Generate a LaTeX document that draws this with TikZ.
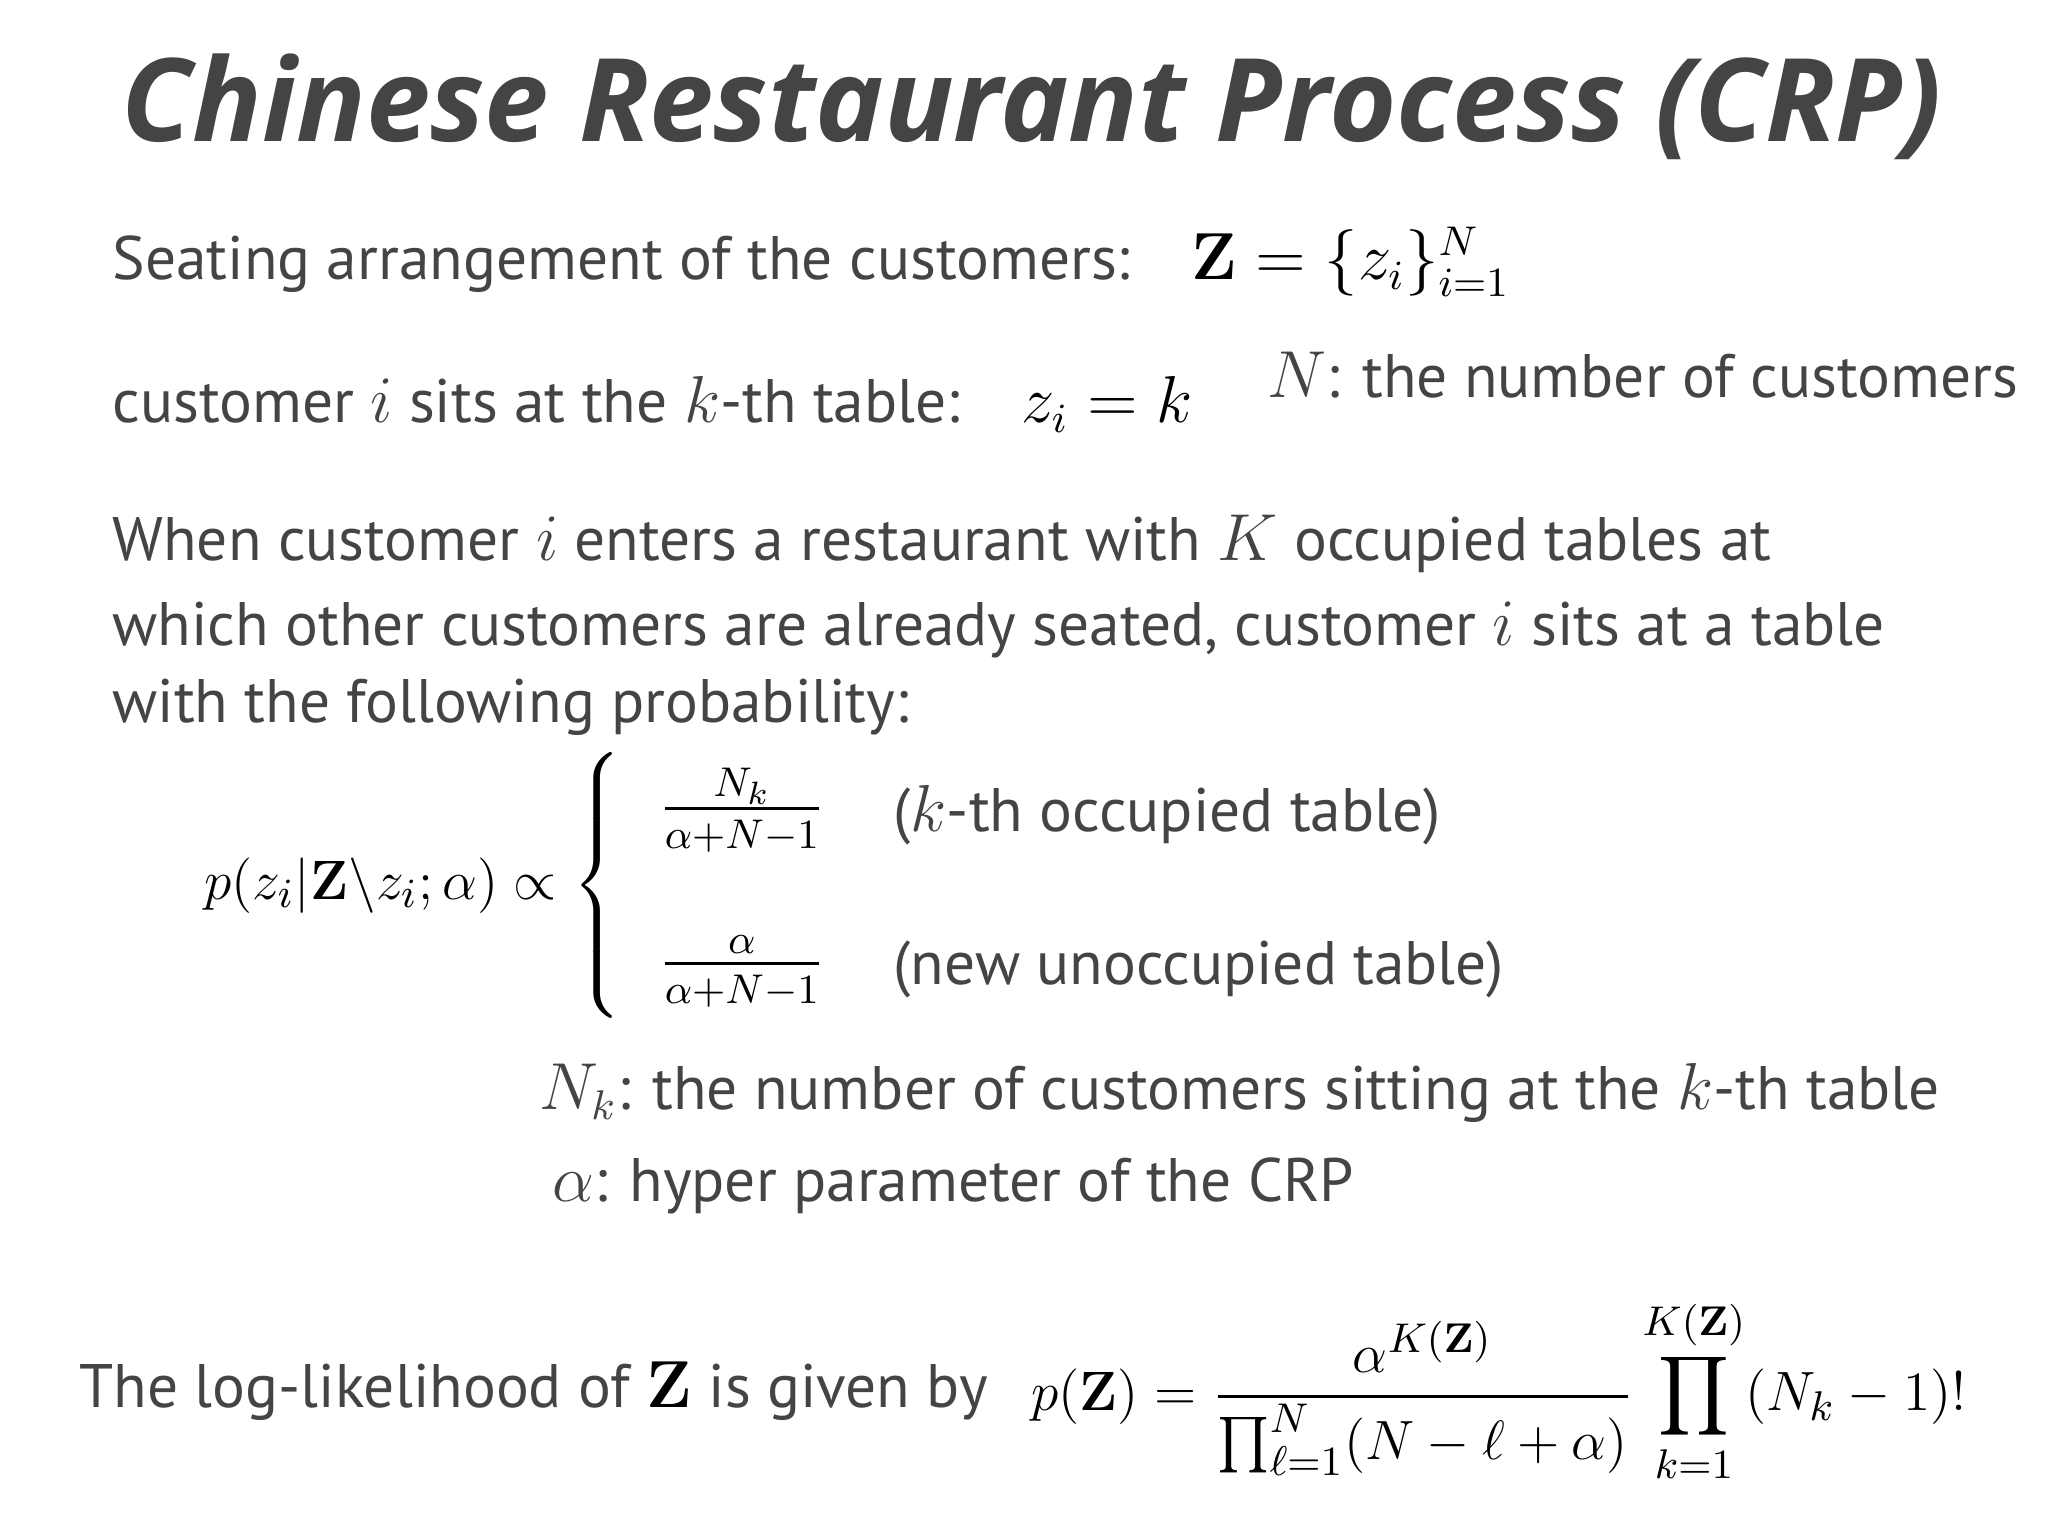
\documentclass[tikz,border=0pt]{standalone}
\usepackage{amsmath}
\usepackage[no-math]{fontspec}
\setmainfont{PT Sans}
\newfontfamily\titlefont{Open Sans}
\definecolor{ink}{HTML}{444444}
\begin{document}
\begin{tikzpicture}[x=0.01cm,y=-0.01cm,
  txt/.style={anchor=base west,inner sep=0pt,text=ink,font=\fontsize{13.3}{16}\selectfont},
  mth/.style={inner sep=0pt,text=black,font=\fontsize{13.3}{16}\selectfont}]
\useasboundingbox (0,0) rectangle (1560,1170);
\node[txt,font=\titlefont\bfseries\itshape\fontsize{25}{30}\selectfont] (title) at (92,108) {Chinese Restaurant Process (CRP)};
\node[txt] (seat) at (85,213) {Seating arrangement of the customers:\quad\color{black}$\mathbf{Z}=\{z_i\}_{i=1}^{N}$};
\node[txt] (cust) at (85,322) {customer $i$ sits at the $k$-th table:\quad\color{black}$z_i=k$};
\node[txt] (Nd) at (965,303) {$N$: the number of customers};
\node[txt] (p1) at (85,427) {When customer $i$ enters a restaurant with $K$ occupied tables at};
\node[txt] (p2) at (85,492) {which other customers are already seated, customer $i$ sits at a table};
\node[txt] (p3) at (85,550) {with the following probability:};
\node[mth,anchor=west,font=\fontsize{12.5}{15}\selectfont] (lhs) at (155,675) {$p(z_i|\mathbf{Z}\backslash z_i;\alpha)\propto\left\{\vrule height 0.92cm depth 0.92cm width 0pt\right.$};
\node[mth,anchor=center] (f1) at (565,617) {$\tfrac{N_k}{\alpha+N-1}$};
\node[mth,anchor=center] (f2) at (565,740) {$\tfrac{\alpha}{\alpha+N-1}$};
\node[txt] (t1) at (680,633) {($k$-th occupied table)};
\node[txt] (t2) at (680,750) {(new unoccupied table)};
\node[txt] (Nk) at (410,845) {$N_k$: the number of customers sitting at the $k$-th table};
\node[txt] (al) at (420,915) {$\alpha$: hyper parameter of the CRP};
\node[txt] (ll) at (60,1072) {The log-likelihood of \color{black}$\mathbf{Z}$\color{ink}\ is given by};
\node[mth,anchor=west,font=\fontsize{12.3}{14}\selectfont] (pz) at (785,1060) {$\displaystyle p(\mathbf{Z})=\frac{\alpha^{K(\mathbf{Z})}}{\prod_{\ell=1}^{N}(N-\ell+\alpha)}\prod_{k=1}^{K(\mathbf{Z})}(N_k-1)!$};
\end{tikzpicture}
\end{document}
